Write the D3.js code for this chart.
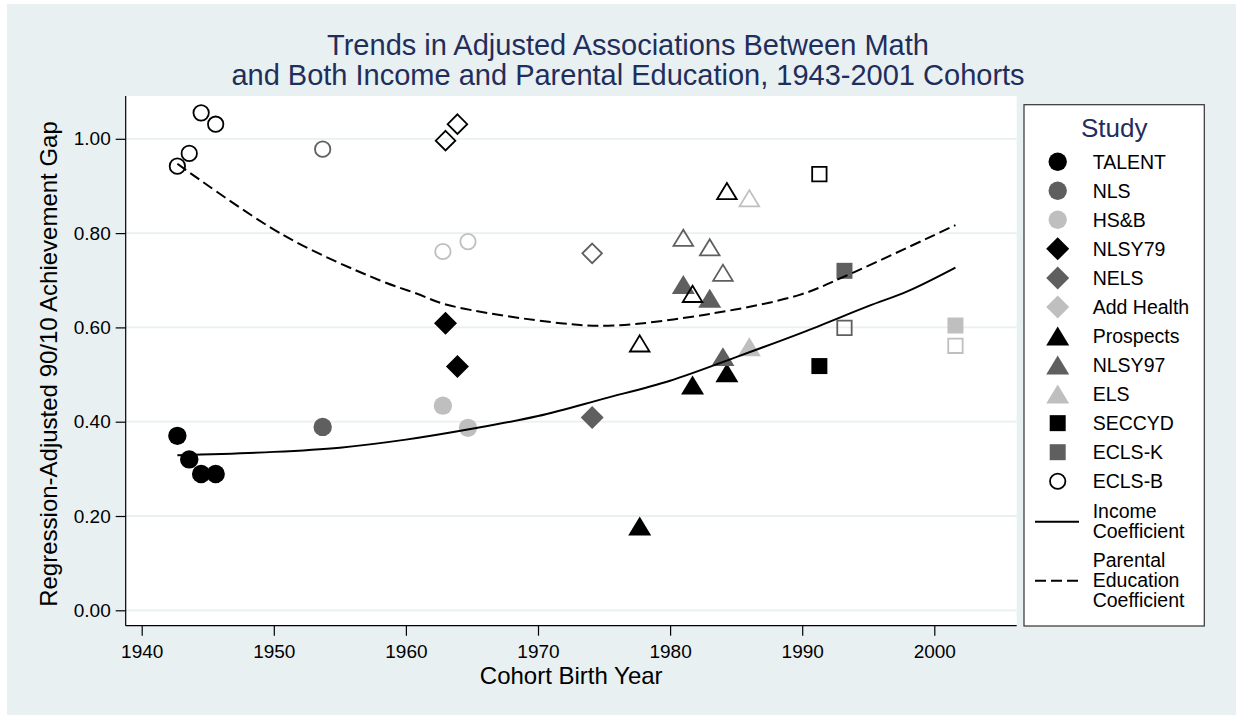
<!DOCTYPE html>
<html>
<head>
<meta charset="utf-8">
<script src="https://cdn.jsdelivr.net/npm/d3@7"></script>
<style>
  body { margin: 0; background: #fff; }
  svg { display: block; font-family: "Liberation Sans", Arial, sans-serif; }
</style>
</head>
<body>
<svg id="chart" width="1236" height="715"></svg>
<script>
// ---- data ----
const studies = ['TALENT', 'NLS', 'HS&B', 'NLSY79', 'NELS', 'Add Health', 'Prospects', 'NLSY97', 'ELS', 'SECCYD', 'ECLS-K', 'ECLS-B'];

// one entry per observation (filled marker = income, hollow marker = parental education)
const pointStudy = ['TALENT', 'TALENT', 'TALENT', 'TALENT', 'NLS', 'HS&B', 'HS&B', 'NLSY79', 'NLSY79', 'NELS',
  'Prospects', 'Prospects', 'Prospects', 'NLSY97', 'NLSY97', 'NLSY97', 'ELS', 'SECCYD', 'ECLS-K', 'ECLS-B'];
const pointYear = [1942.7, 1943.6, 1944.5, 1945.6, 1953.7, 1962.8, 1964.7, 1963.0, 1963.9, 1974.1,
  1977.7, 1981.7, 1984.3, 1981.0, 1983.0, 1984.0, 1986.0, 1991.3, 1993.2, 2001.6];
const incomeCoef = [0.370, 0.320, 0.289, 0.289, 0.389, 0.434, 0.387, 0.609, 0.517, 0.409,
  0.179, 0.478, 0.504, 0.691, 0.662, 0.538, 0.559, 0.518, 0.720, 0.604];
const parentEdCoef = [0.942, 0.969, 1.055, 1.031, 0.978, 0.761, 0.782, 0.996, 1.031, 0.757,
  0.566, 0.671, 0.889, 0.790, 0.770, 0.716, 0.874, 0.925, 0.599, 0.561];

// fitted curves
const incomeFitYear = [1942.7, 1950, 1955, 1960, 1965, 1970, 1975, 1980, 1985, 1990, 1995, 1998, 2001.6];
const incomeFitValue = [0.329, 0.336, 0.345, 0.362, 0.385, 0.412, 0.449, 0.487, 0.537, 0.589, 0.645, 0.677, 0.727];
const parentFitYear = [1942.7, 1950.7, 1958, 1960.8, 1963.1, 1971.7, 1975.7, 1983.3, 1989.8, 1993.2, 2001.6];
const parentFitValue = [0.947, 0.796, 0.700, 0.672, 0.648, 0.609, 0.604, 0.630, 0.669, 0.708, 0.817];

const xTicks = [1940, 1950, 1960, 1970, 1980, 1990, 2000];
const yTicks = [0, 0.2, 0.4, 0.6, 0.8, 1.0];

// ---- styles ----
const black = '#000', mid = '#5f5f5f', light = '#bfbfbf';
const studyShape = ['circle', 'circle', 'circle', 'diamond', 'diamond', 'diamond', 'triangle', 'triangle', 'triangle', 'square', 'square', 'square'];
const studyColor = [black, mid, light, black, mid, light, black, mid, light, black, mid, light];
const titleColor = '#1f2e5a';
const bg = '#e8f0f2';

const filledSize = { circle: 9.2, diamond: 11.5, triangle: 11.5, square: 8 };
const hollowSize = { circle: 7.7, diamond: 9.8, triangle: 9.8, square: 7.2 };

function shapePath(shape, s) {
  if (shape === 'circle') return d3.symbol(d3.symbolCircle, Math.PI * s * s)();
  if (shape === 'diamond') return `M0,${-s}L${s},0L0,${s}L${-s},0Z`;
  if (shape === 'triangle') { const h = s * 1.65; return `M0,${-h / 2}L${s},${h / 2}L${-s},${h / 2}Z`; }
  return `M${-s},${-s}H${s}V${s}H${-s}Z`;
}

const svg = d3.select('#chart');
const plot = { left: 125.7, right: 1016.7, top: 96, bottom: 625.7 };

const x = d3.scaleLinear().domain([1940, 2000]).range([141.7, 934.3]);
const y = d3.scaleLinear().domain([0, 1]).range([610.3, 138.8]);

// background + plot region
svg.append('rect').attr('x', 7).attr('y', 4).attr('width', 1229).attr('height', 711).attr('fill', bg);
svg.append('rect').attr('x', plot.left).attr('y', plot.top)
  .attr('width', plot.right - plot.left).attr('height', plot.bottom - plot.top).attr('fill', '#fff');

// grid lines
svg.append('g').selectAll('line').data(yTicks).join('line')
  .attr('x1', plot.left).attr('x2', plot.right)
  .attr('y1', d => y(d)).attr('y2', d => y(d))
  .attr('stroke', bg).attr('stroke-width', 1.8);

// axes
const yAxis = svg.append('g').attr('transform', `translate(${plot.left},0)`)
  .call(d3.axisLeft(y).tickValues(yTicks).tickFormat(d3.format('.2f')).tickSize(10).tickPadding(5));
const xAxis = svg.append('g').attr('transform', `translate(0,${plot.bottom})`)
  .call(d3.axisBottom(x).tickValues(xTicks).tickFormat(d3.format('d')).tickSize(10).tickPadding(9));
[yAxis, xAxis].forEach(g => {
  g.select('.domain').remove();
  g.selectAll('.tick line').attr('stroke', '#000').attr('stroke-width', 1.2);
  g.selectAll('.tick text').attr('fill', '#000').style('font-size', '19px')
    .style('font-family', '"Liberation Sans", Arial, sans-serif');
});
svg.append('line').attr('x1', plot.left).attr('x2', plot.left).attr('y1', plot.top).attr('y2', plot.bottom)
  .attr('stroke', '#000').attr('stroke-width', 1.2);
svg.append('line').attr('x1', plot.left).attr('x2', plot.right).attr('y1', plot.bottom).attr('y2', plot.bottom)
  .attr('stroke', '#000').attr('stroke-width', 1.2);

// markers: filled = income, hollow = parental education
const points = pointYear.map((yr, i) => {
  const k = studies.indexOf(pointStudy[i]);
  return { year: yr, inc: incomeCoef[i], par: parentEdCoef[i], shape: studyShape[k], color: studyColor[k] };
});

svg.append('g').selectAll('path').data(points).join('path')
  .attr('transform', d => `translate(${x(d.year)},${y(d.inc)})`)
  .attr('d', d => shapePath(d.shape, filledSize[d.shape]))
  .attr('fill', d => d.color);

svg.append('g').selectAll('path').data(points).join('path')
  .attr('transform', d => `translate(${x(d.year)},${y(d.par)})`)
  .attr('d', d => shapePath(d.shape, hollowSize[d.shape]))
  .attr('fill', 'none').attr('stroke', d => d.color).attr('stroke-width', 1.8);

// fitted curves
const line = d3.line().x(d => x(d[0])).y(d => y(d[1])).curve(d3.curveCatmullRom);
svg.append('path').attr('d', line(incomeFitYear.map((yr, i) => [yr, incomeFitValue[i]])))
  .attr('fill', 'none').attr('stroke', '#000').attr('stroke-width', 2);
svg.append('path').attr('d', line(parentFitYear.map((yr, i) => [yr, parentFitValue[i]])))
  .attr('fill', 'none').attr('stroke', '#000').attr('stroke-width', 2).attr('stroke-dasharray', '11,5');

// titles
const title = svg.append('text').attr('text-anchor', 'middle').attr('fill', titleColor).style('font-size', '29px');
title.append('tspan').attr('x', 628).attr('y', 55).text('Trends in Adjusted Associations Between Math');
title.append('tspan').attr('x', 628).attr('y', 85.3).text('and Both Income and Parental Education, 1943-2001 Cohorts');

svg.append('text').attr('x', (plot.left + plot.right) / 2).attr('y', 684).attr('text-anchor', 'middle')
  .style('font-size', '24px').text('Cohort Birth Year');
svg.append('text').attr('transform', 'translate(56.5,364) rotate(-90)').attr('text-anchor', 'middle')
  .style('font-size', '24px').text('Regression-Adjusted 90/10 Achievement Gap');

// legend
const lg = svg.append('g');
lg.append('rect').attr('x', 1024).attr('y', 104.7).attr('width', 180.3).attr('height', 521.3)
  .attr('fill', '#fff').attr('stroke', '#333').attr('stroke-width', 1.2);
lg.append('text').attr('x', 1114.2).attr('y', 136.7).attr('text-anchor', 'middle')
  .attr('fill', titleColor).style('font-size', '26px').text('Study');

studies.forEach((name, i) => {
  const cy = 161.7 + i * 29.05;
  const hollow = i === studies.length - 1; // the last key shows a hollow black circle
  const shape = hollow ? 'circle' : studyShape[i];
  lg.append('path').attr('transform', `translate(1057.7,${cy})`)
    .attr('d', shapePath(shape, hollow ? hollowSize.circle : filledSize[shape]))
    .attr('fill', hollow ? 'none' : studyColor[i])
    .attr('stroke', hollow ? '#000' : 'none').attr('stroke-width', 1.8);
  lg.append('text').attr('x', 1092.7).attr('y', cy + 7).style('font-size', '19.5px').text(name);
});

lg.append('line').attr('x1', 1035).attr('x2', 1079).attr('y1', 521.7).attr('y2', 521.7)
  .attr('stroke', '#000').attr('stroke-width', 2);
[['Income', 517.5], ['Coefficient', 537.5]].forEach(([t, yy]) =>
  lg.append('text').attr('x', 1092.7).attr('y', yy).style('font-size', '19.5px').text(t));
lg.append('line').attr('x1', 1035).attr('x2', 1079).attr('y1', 580.7).attr('y2', 580.7)
  .attr('stroke', '#000').attr('stroke-width', 2).attr('stroke-dasharray', '11,5');
[['Parental', 566.7], ['Education', 586.7], ['Coefficient', 606.7]].forEach(([t, yy]) =>
  lg.append('text').attr('x', 1092.7).attr('y', yy).style('font-size', '19.5px').text(t));
</script>
</body>
</html>
